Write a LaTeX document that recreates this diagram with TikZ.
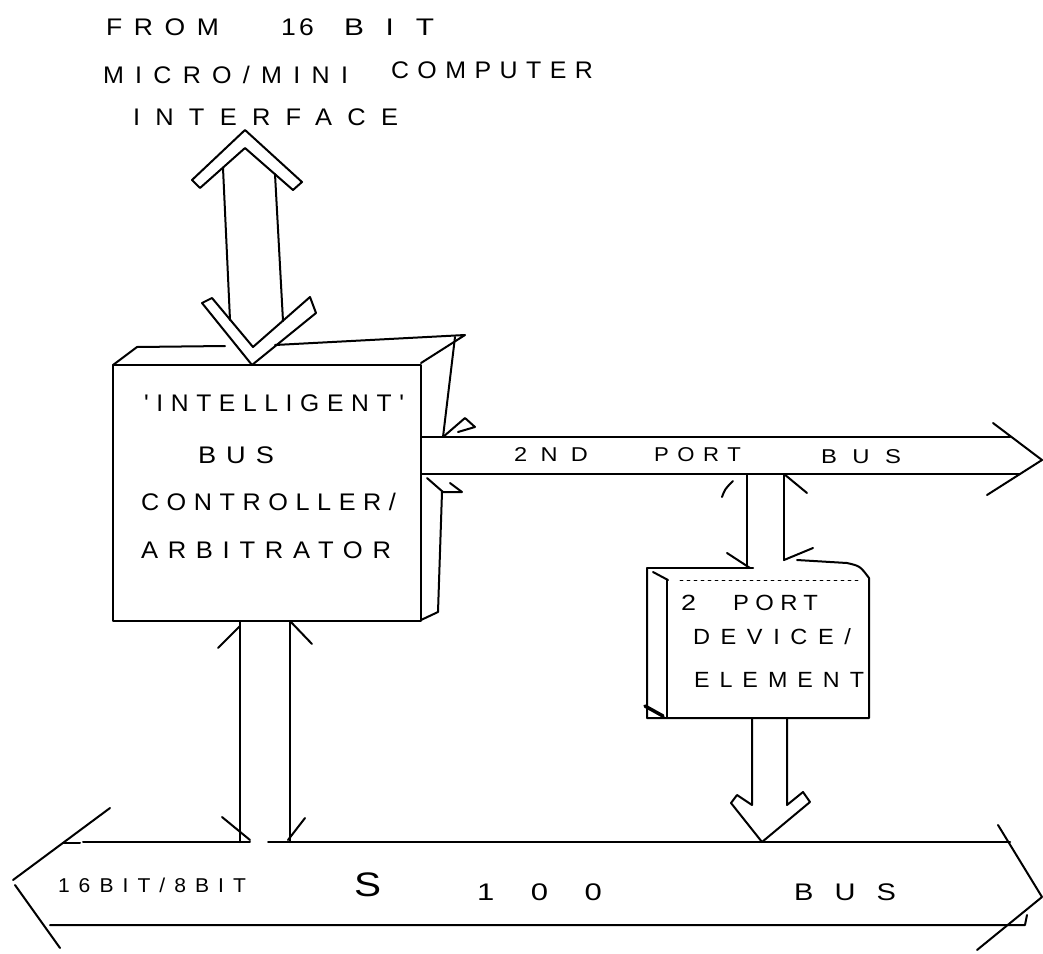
\documentclass[tikz,border=0pt]{standalone}
\usepackage{fontspec}
\usepackage{graphicx}
\newfontfamily\hand{Liberation Sans}
% width, size, letterspace, text
\newcommand{\hw}[4]{\resizebox{#1pt}{\height}{\fontsize{#2pt}{#2pt}\hand\addfontfeature{LetterSpace=#3}#4}}
\begin{document}
\begin{tikzpicture}[x=1pt,y=-1pt,line width=2pt,line cap=round,line join=round,
  lbl/.style={anchor=west,inner sep=0pt},
  faint/.style={line width=0.6pt,dash pattern=on 3pt off 4pt}]
\fill[white] (0,0) rectangle (1043,953);
\useasboundingbox (0,0) rectangle (1043,953);

% ---------- title ----------
\node[lbl] (tFrom) at (105,27) {\hw{113}{24}{44}{FROM}};
\node[lbl] (t16) at (280,27) {\hw{33}{24}{13}{16}};
\node[lbl] (tBit) at (343,27) {\hw{90}{24}{73}{BIT}};
\node[lbl] (tMicro) at (102,75) {\hw{245}{24}{45}{MICRO/MINI}};
\node[lbl] (tComp) at (390,70) {\hw{202}{24}{34}{COMPUTER}};
\node[lbl] (tInt) at (132,117) {\hw{265}{24}{60}{INTERFACE}};

% ---------- top hollow double arrow ----------
\coordinate (topTip) at (245,130);
\coordinate (ctrlIn) at (252,365);
\draw (192,180) -- (topTip) -- (302,182) -- (293,190) -- (245,148) -- (200,188) -- cycle;
\draw (223,168) -- (230,320);
\draw (275,174) -- (283,321);
\draw (202,303) -- (ctrlIn) -- (316,313) -- (310,297) -- (253,347) -- (212,298) -- cycle;

% ---------- controller box ----------
\coordinate (ctrlNW) at (113,365);
\coordinate (ctrlSE) at (421,621);
\draw (ctrlNW) rectangle (ctrlSE);
\draw (ctrlNW) -- (137,347) -- (225,346);
\draw (275,345) -- (465,335) -- (421,363);
\draw (455,337) -- (443,437);
\draw (442,492) -- (438,612) -- (421,620);
\node[lbl] (cLine1) at (143,403) {\hw{260}{24}{31}{'INTELLIGENT'}};
\node[lbl] (cLine2) at (197,455) {\hw{76}{24}{37}{BUS}};
\node[lbl] (cLine3) at (140,502) {\hw{255}{24}{30}{CONTROLLER/}};
\node[lbl] (cLine4) at (140,550) {\hw{250}{24}{38}{ARBITRATOR}};

% ---------- 2nd port bus ----------
\draw (421,437) -- (1010,437);
\draw (421,474) -- (1020,474);
\draw (993,423) -- (1042,460) -- (987,495);
\draw (443,437) -- (465,418) -- (475,427) -- (458,432);
\draw (427,478) -- (443,492) -- (462,492) -- (450,483);
\node[lbl] (b2a) at (513,455) {\hw{74}{20}{57}{2ND}};
\node[lbl] (b2b) at (653,455) {\hw{87}{20}{39}{PORT}};
\node[lbl] (b2c) at (820,457) {\hw{80}{20}{65}{BUS}};

% ---------- link 2nd bus <-> device ----------
\draw (747,474) -- (747,568);
\draw (784,474) -- (784,560);
\draw (722,497) .. controls (725,489) .. (733,481);
\draw (784,474) -- (807,493);
\draw (727,553) -- (750,568);
\draw (784,560) -- (813,548);

% ---------- device box ----------
\draw (647,568) -- (753,568);
\draw (797,560) -- (847,563) .. controls (860,566) .. (869,578) -- (869,718) -- (647,718) -- (647,568);
\draw (667,580) -- (667,718);
\draw (653,572) -- (668,580);
\draw[line width=3.5pt] (645,706) -- (663,716);
\draw[faint] (680,580) -- (860,580);
\node[lbl] (d1a) at (680,603) {\hw{15}{22}{0}{2}};
\node[lbl] (d1b) at (732,603) {\hw{85}{22}{27}{PORT}};
\node[lbl] (d2) at (692,637) {\hw{158}{22}{45}{DEVICE/}};
\node[lbl] (d3) at (693,680) {\hw{170}{22}{43}{ELEMENT}};

% ---------- device -> S100 hollow arrow ----------
\coordinate (devTip) at (762,842);
\draw (752,718) -- (752,805) -- (737,795) -- (731,803) -- (devTip) -- (810,802) -- (803,792) -- (787,805) -- (787,718);

% ---------- controller <-> S100 ----------
\draw (240,621) -- (240,842);
\draw (290,621) -- (290,842);
\draw (218,648) -- (240,626);
\draw (290,621) -- (312,644);
\draw (222,817) -- (250,840);
\draw (288,840) -- (305,818);

% ---------- S100 bus ----------
\draw (63,843) -- (80,843);
\draw (83,842) -- (250,842);
\draw (268,842) -- (1010,842);
\draw (50,925) -- (1025,925) -- (1027,915);
\draw (110,808) -- (13,880);
\draw (15,885) -- (60,948);
\draw (998,825) -- (1042,897) -- (977,950);
\node[lbl] (s1) at (57,885) {\hw{188}{20}{43}{16BIT/8BIT}};
\node[lbl] (s2) at (353,885) {\hw{27}{34}{0}{S}};
\node[lbl] (s3) at (476,892) {\hw{125}{24}{118}{100}};
\node[lbl] (s4) at (793,892) {\hw{102}{24}{73}{BUS}};
\end{tikzpicture}
\end{document}
